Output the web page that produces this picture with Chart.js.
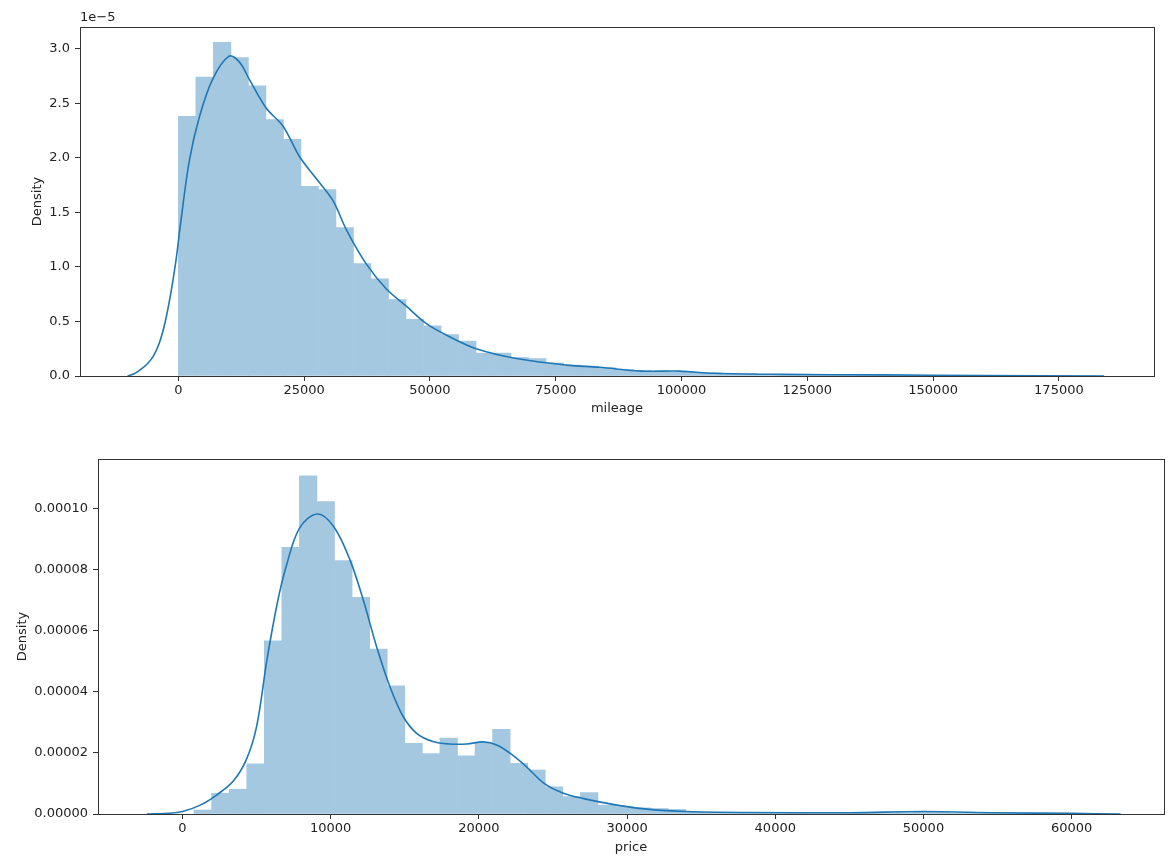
<!DOCTYPE html>
<html>
<head>
<meta charset="utf-8">
<script src="https://cdn.jsdelivr.net/npm/chart.js@4.4.0/dist/chart.umd.min.js"></script>
<style>
  body { margin: 0; background: #fff; }
  #wrap { position: relative; width: 1168px; height: 867px; }
  canvas { position: absolute; left: 0; }
  #top { top: 0; }
  #bottom { top: 433px; }
</style>
</head>
<body>
<div id="wrap">
  <canvas id="top" width="1168" height="433"></canvas>
  <canvas id="bottom" width="1168" height="434"></canvas>
</div>
<script>
// mileage histogram: 50 bins starting at 0
const mileageBinStart = 0;
const mileageBinWidth = 3480;
const mileageDensity = [
  2.38e-5, 2.74e-5, 3.06e-5, 2.92e-5, 2.66e-5, 2.35e-5, 2.17e-5, 1.74e-5, 1.71e-5, 1.36e-5,
  1.03e-5, 0.89e-5, 0.70e-5, 0.52e-5, 0.46e-5, 0.38e-5, 0.32e-5, 0.21e-5, 0.21e-5, 0.17e-5,
  0.16e-5, 0.12e-5, 0.10e-5, 0.09e-5, 0.075e-5, 0.06e-5, 0.05e-5, 0.04e-5, 0.035e-5, 0.03e-5,
  0.03e-5, 0.025e-5, 0.02e-5, 0.015e-5, 0.012e-5, 0.01e-5, 0.01e-5, 0.008e-5, 0.008e-5, 0.006e-5,
  0.006e-5, 0.005e-5, 0.005e-5, 0.004e-5, 0.004e-5, 0.003e-5, 0.003e-5, 0.003e-5, 0.002e-5, 0.002e-5
];
const mileageKdeX = [-10100, -8800, -7500, -6200, -5000, -3800, -2600, -1500, -500, 500, 2200,
  4200, 6800, 10000, 12100, 14100, 17400, 20800, 24100, 27400, 30700, 33400, 37300, 41300,
  45300, 49300, 53900, 59200, 67200, 77100, 83700, 92000, 99600, 106400, 120000, 140000, 160000,
  184000];
const mileageKdeY = [0, 0.02e-5, 0.06e-5, 0.11e-5, 0.18e-5, 0.30e-5, 0.50e-5, 0.76e-5, 1.05e-5,
  1.42e-5, 1.98e-5, 2.38e-5, 2.72e-5, 2.93e-5, 2.88e-5, 2.72e-5, 2.46e-5, 2.29e-5,
  2.01e-5, 1.81e-5, 1.61e-5, 1.34e-5, 1.03e-5, 0.80e-5, 0.64e-5, 0.48e-5, 0.36e-5, 0.25e-5,
  0.16e-5, 0.10e-5, 0.08e-5, 0.045e-5, 0.045e-5, 0.025e-5, 0.015e-5, 0.01e-5, 0.005e-5, 0];
const mileageXTicks = [0, 25000, 50000, 75000, 100000, 125000, 150000, 175000];
const mileageYTicks = [0, 0.5e-5, 1.0e-5, 1.5e-5, 2.0e-5, 2.5e-5, 3.0e-5];

// price histogram: 50 bins
const priceBinStart = 780;
const priceBinWidth = 1185;
const priceDensity = [
  1.3e-6, 6.8e-6, 8.1e-6, 16.4e-6, 56.6e-6, 87.2e-6, 110.6e-6, 102.2e-6, 82.9e-6, 70.9e-6,
  53.9e-6, 41.9e-6, 23.1e-6, 19.8e-6, 24.8e-6, 19.0e-6, 23.3e-6, 27.7e-6, 16.6e-6, 14.4e-6,
  8.9e-6, 5.7e-6, 7.0e-6, 2.9e-6, 2.4e-6, 2.0e-6, 1.8e-6, 1.5e-6, 0.6e-6, 0.5e-6,
  0.3e-6, 0.3e-6, 0.2e-6, 0.2e-6, 0.3e-6, 0.2e-6, 0.2e-6, 0.1e-6, 0.1e-6, 0.2e-6,
  0.4e-6, 0.6e-6, 0.5e-6, 0.3e-6, 0.2e-6, 0.1e-6, 0.1e-6, 0.1e-6, 0, 0.1e-6
];
const priceKdeX = [-2400, -1000, 0, 1200, 2300, 3400, 4300, 5000, 5700, 6400, 7000, 7900, 9100,
  10200, 11300, 12200, 13100, 14000, 14900, 15800, 16900, 18000, 19200, 20300, 21200, 22100,
  23200, 24400, 25700, 27000, 29300, 31500, 34000, 38000, 45000, 50000, 55000, 60000, 63300];
const priceKdeY = [0, 0.2e-6, 0.8e-6, 2.9e-6, 6.2e-6, 10.6e-6, 17.7e-6, 28.6e-6, 50.4e-6, 69e-6,
  81e-6, 93.5e-6, 98.1e-6, 94e-6, 83.1e-6, 70e-6, 54.7e-6, 41.6e-6, 31.8e-6, 26.4e-6, 23.7e-6,
  22.9e-6, 22.9e-6, 23.6e-6, 22.6e-6, 19.9e-6, 15.5e-6, 10e-6, 6.8e-6, 5.1e-6, 2.9e-6, 1.5e-6,
  0.8e-6, 0.5e-6, 0.4e-6, 0.8e-6, 0.4e-6, 0.2e-6, 0];
const priceXTicks = [0, 10000, 20000, 30000, 40000, 50000, 60000];
const priceYTicks = [0, 0.00002, 0.00004, 0.00006, 0.00008, 0.0001];

// #1f77b4 at alpha 0.4 on white, kept opaque so touching bars don't leave seams
const BAR_COLOR = '#a5c8e1';
const LINE_COLOR = '#1f77b4';
const TEXT = '#222';
const SPINE = '#333';
const FONT = { family: 'DejaVu Sans', size: 13 };

Chart.defaults.font.family = 'DejaVu Sans';
Chart.defaults.color = TEXT;

// matplotlib style box round the axes, plus optional offset text
const frame = {
  id: 'frame',
  afterDraw(chart, args, opts) {
    const { ctx, chartArea: a } = chart;
    ctx.save();
    ctx.strokeStyle = SPINE;
    ctx.lineWidth = 1;
    ctx.strokeRect(Math.round(a.left) + 0.5, Math.round(a.top) + 0.5,
      Math.round(a.right - a.left), Math.round(a.bottom - a.top));
    if (opts.offsetText) {
      ctx.fillStyle = TEXT;
      ctx.font = '13px "DejaVu Sans"';
      ctx.textBaseline = 'bottom';
      ctx.textAlign = 'left';
      ctx.fillText(opts.offsetText, a.left, a.top - 3);
    }
    ctx.restore();
  }
};

function binBars(start, width, dens) {
  return dens.map((y, i) => ({ x: start + (i + 0.5) * width, y }));
}

function kdePoints(xs, ys) {
  return xs.map((x, i) => ({ x, y: ys[i] }));
}

function renderDist(canvasId, cfg) {
  const ctx = document.querySelector(`#${canvasId}`).getContext('2d');
  return new Chart(ctx, {
    type: 'bar',
    data: {
      datasets: [
        {
          type: 'line',
          data: kdePoints(cfg.kdeX, cfg.kdeY),
          borderColor: LINE_COLOR,
          borderWidth: 1.6,
          pointRadius: 0,
          tension: 0.35,
          fill: false,
          order: 0
        },
        {
          type: 'bar',
          data: binBars(cfg.binStart, cfg.binWidth, cfg.density),
          backgroundColor: BAR_COLOR,
          borderWidth: 0,
          barPercentage: 1,
          categoryPercentage: 1,
          order: 1
        }
      ]
    },
    options: {
      responsive: false,
      animation: false,
      devicePixelRatio: 1,
      layout: { padding: cfg.padding },
      plugins: {
        legend: { display: false },
        tooltip: { enabled: false },
        frame: { offsetText: cfg.offsetText }
      },
      scales: {
        x: {
          type: 'linear',
          offset: false,
          min: cfg.xMin,
          max: cfg.xMax,
          afterBuildTicks: s => { s.ticks = cfg.xTicks.map(v => ({ value: v })); },
          afterFit: s => { s.height = cfg.xAxisHeight; },
          grid: { drawOnChartArea: false, offset: false, tickLength: 5, color: SPINE },
          border: { display: true, color: SPINE },
          ticks: { font: FONT, color: TEXT, padding: 2, maxRotation: 0, autoSkip: false,
                   callback: v => String(v) },
          title: { display: true, text: cfg.xLabel, font: FONT, color: TEXT,
                   padding: { top: 0, bottom: cfg.xTitlePad } }
        },
        y: {
          min: 0,
          max: cfg.yMax,
          afterBuildTicks: s => { s.ticks = cfg.yTicks.map(v => ({ value: v })); },
          afterFit: s => { s.width = cfg.yAxisWidth; },
          grid: { drawOnChartArea: false, tickLength: 5, color: SPINE },
          border: { display: true, color: SPINE },
          ticks: { font: FONT, color: TEXT, padding: 5, callback: cfg.yFormat },
          title: { display: true, text: 'Density', font: FONT, color: TEXT,
                   padding: { top: cfg.yTitlePad, bottom: 0 } }
        }
      }
    },
    plugins: [frame]
  });
}

renderDist('top', {
  binStart: mileageBinStart, binWidth: mileageBinWidth, density: mileageDensity,
  kdeX: mileageKdeX, kdeY: mileageKdeY,
  xTicks: mileageXTicks, yTicks: mileageYTicks,
  xMin: -19550, xMax: 193900, yMax: 3.2e-5,
  xLabel: 'mileage', offsetText: '1e\u22125',
  yFormat: v => (v * 1e5).toFixed(1),
  padding: { top: 27, right: 14, left: 0, bottom: 0 },
  yAxisWidth: 80, xAxisHeight: 57, xTitlePad: 17, yTitlePad: 30
});

renderDist('bottom', {
  binStart: priceBinStart, binWidth: priceBinWidth, density: priceDensity,
  kdeX: priceKdeX, kdeY: priceKdeY,
  xTicks: priceXTicks, yTicks: priceYTicks,
  xMin: -5700, xMax: 66230, yMax: 1.161e-4,
  xLabel: 'price', offsetText: null,
  yFormat: v => v.toFixed(5),
  padding: { top: 26, right: 4, left: 0, bottom: 0 },
  yAxisWidth: 98, xAxisHeight: 53, xTitlePad: 12, yTitlePad: 15
});
</script>
</body>
</html>
